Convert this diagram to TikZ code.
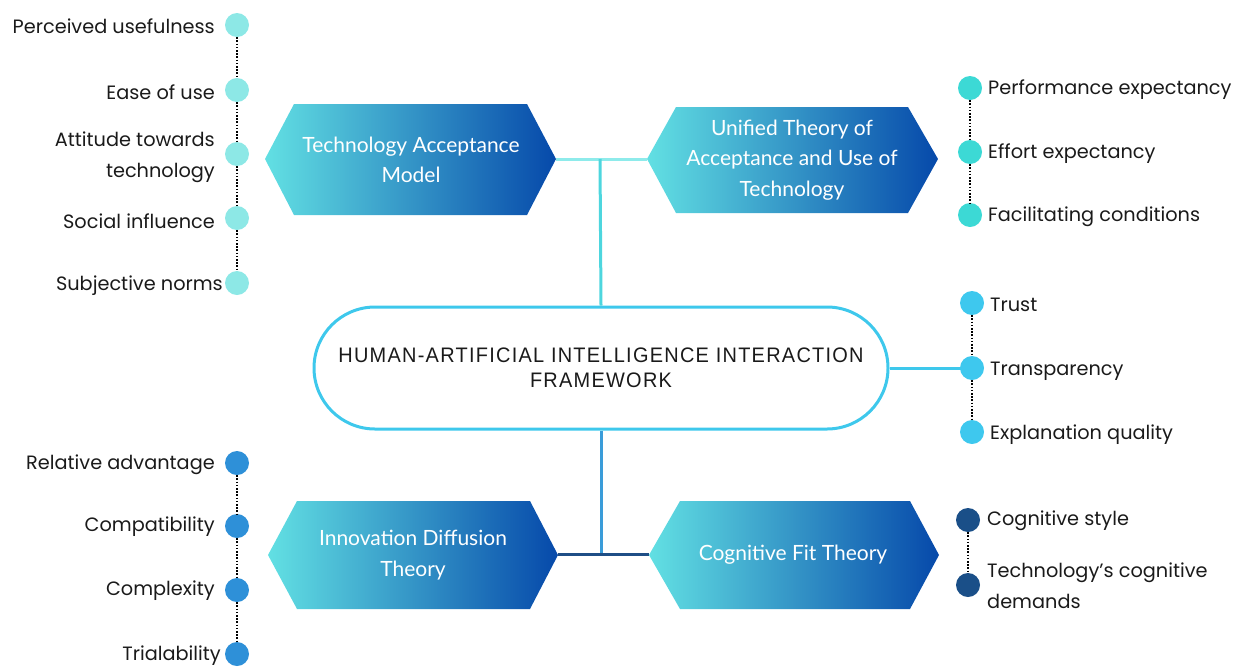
\documentclass[tikz,border=0pt]{standalone}
\usepackage{fontspec}
\setmainfont{Poppins}
\newfontfamily\hexfont{Lato}
\newfontfamily\hubfont[FakeStretch=0.95,LetterSpace=6]{Liberation Sans}
\definecolor{tamdot}{HTML}{8DE8E6}
\definecolor{utdot}{HTML}{3CD9D5}
\definecolor{trdot}{HTML}{3EC8EE}
\definecolor{iddot}{HTML}{2E90D8}
\definecolor{cfdot}{HTML}{1A4F88}
\definecolor{hexL}{HTML}{62E0E3}
\definecolor{hexR}{HTML}{0649AA}
\definecolor{linkA}{HTML}{8EEBEB}
\definecolor{linkB}{HTML}{4DD6DE}
\definecolor{hubline}{HTML}{3EC8EC}
\definecolor{linkC}{HTML}{3A9CD9}
\definecolor{linkD}{HTML}{1F4E86}
\definecolor{ink}{HTML}{1A1A1A}
\tikzset{
  dot/.style={circle, minimum size=24pt, inner sep=0pt, draw=none},
  dotline/.style={line width=1.6pt, dash pattern=on 1.6pt off 1.6pt, black},
  lbl/.style={inner sep=0pt, text=ink, font=\fontsize{19.3}{31}\selectfont, align=right, yshift=-2pt},
  rlbl/.style={inner sep=0pt, text=ink, font=\fontsize{19.3}{31}\selectfont, align=left, yshift=-2pt},
  hextext/.style={inner sep=0pt, text=white, font=\hexfont\fontsize{21}{30.5}\selectfont, align=center},
  hexshade/.style={left color=hexL, right color=hexR},
}
\begin{document}
\begin{tikzpicture}[x=1pt,y=-1pt]
\useasboundingbox (0,0) rectangle (1239,667);

% theory hexagons
\shade[hexshade] (265,159) -- (294,104) -- (527,104) -- (556,159) -- (527,215) -- (294,215) -- cycle;
\shade[hexshade] (647,159) -- (676,107) -- (908,107) -- (938,159) -- (908,213) -- (676,213) -- cycle;
\shade[hexshade] (268,555) -- (297,501) -- (530,501) -- (558,555) -- (530,609) -- (297,609) -- cycle;
\shade[hexshade] (649,555) -- (680,501) -- (910,501) -- (939,555) -- (910,609) -- (680,609) -- cycle;
\coordinate (tamR) at (556,159);
\coordinate (utL) at (647,159);
\coordinate (idR) at (558,554);
\coordinate (cfL) at (649,554);
\coordinate (topJ) at (600,159);
\coordinate (botJ) at (601,554);

\node[hextext] (tam) at (411,160) {Technology Acceptance\\Model};
\node[hextext] (ut) at (792,160) {Unified Theory of\\Acceptance and Use of\\Technology};
\node[hextext] (idt) at (413,555) {Innovation Diffusion\\Theory};
\node[hextext] (cft) at (793,555) {Cognitive Fit Theory};

% central framework
\node[draw=hubline, line width=3pt, rounded corners=61pt, minimum width=574pt, minimum height=122pt,
      inner sep=0pt, align=center, font=\hubfont\fontsize{21}{25.5}\selectfont, text=ink] (hub) at (601,368)
  {HUMAN-ARTIFICIAL INTELLIGENCE INTERACTION\\FRAMEWORK};

% connectors
\draw[linkA, line width=3pt] (tamR) -- (utL);
\draw[linkB, line width=3pt] (topJ) -- (hub.north);
\draw[linkC, line width=3pt] (hub.south) -- (botJ);
\draw[linkD, line width=3pt] (idR) -- (cfL);

% TAM factors
\node[dot, fill=tamdot] (a1) at (237,25) {};
\node[dot, fill=tamdot] (a2) at (237,90) {};
\node[dot, fill=tamdot] (a3) at (237,154) {};
\node[dot, fill=tamdot] (a4) at (237,218) {};
\node[dot, fill=tamdot] (a5) at (237,283) {};
\draw[dotline] (a1) -- (a2);
\draw[dotline] (a2) -- (a3);
\draw[dotline] (a3) -- (a4);
\draw[dotline] (a4) -- (a5);
\node[lbl, anchor=east] (la1) at (215,24) {Perceived usefulness};
\node[lbl, anchor=east] (la2) at (215,90) {Ease of use};
\node[lbl, anchor=east] (la3) at (215,155) {Attitude towards\\technology};
\node[lbl, anchor=east] (la4) at (215,219) {Social influence};
\node[lbl, anchor=east] (la5) at (223,284) {Subjective norms};

% UTAUT factors
\node[dot, fill=utdot] (b1) at (970,88) {};
\node[dot, fill=utdot] (b2) at (970,152) {};
\node[dot, fill=utdot] (b3) at (970,215) {};
\draw[dotline] (b1) -- (b2);
\draw[dotline] (b2) -- (b3);
\node[rlbl, anchor=west] (lb1) at (988,88) {Performance expectancy};
\node[rlbl, anchor=west] (lb2) at (988,152) {Effort expectancy};
\node[rlbl, anchor=west] (lb3) at (988,215) {Facilitating conditions};

% trust factors
\draw[hubline, line width=3pt] (hub.east) -- (972,368);
\node[dot, fill=trdot] (c1) at (972,303) {};
\node[dot, fill=trdot] (c2) at (972,368) {};
\node[dot, fill=trdot] (c3) at (972,432) {};
\draw[dotline] (c1) -- (c2);
\draw[dotline] (c2) -- (c3);
\node[rlbl, anchor=west] (lc1) at (990,303) {Trust};
\node[rlbl, anchor=west] (lc2) at (990,369) {Transparency};
\node[rlbl, anchor=west] (lc3) at (990,433) {Explanation quality};

% innovation diffusion factors
\node[dot, fill=iddot] (d1) at (237,463) {};
\node[dot, fill=iddot] (d2) at (237,526) {};
\node[dot, fill=iddot] (d3) at (237,590) {};
\node[dot, fill=iddot] (d4) at (237,654) {};
\draw[dotline] (d1) -- (d2);
\draw[dotline] (d2) -- (d3);
\draw[dotline] (d3) -- (d4);
\node[lbl, anchor=east] (ld1) at (215,463) {Relative advantage};
\node[lbl, anchor=east] (ld2) at (215,525) {Compatibility};
\node[lbl, anchor=east] (ld3) at (215,589) {Complexity};
\node[lbl, anchor=east] (ld4) at (221,654) {Trialability};

% cognitive fit factors
\node[dot, fill=cfdot] (e1) at (968,520) {};
\node[dot, fill=cfdot] (e2) at (968,585) {};
\draw[dotline] (e1) -- (e2);
\node[rlbl, anchor=west] (le1) at (987,519) {Cognitive style};
\node[rlbl, anchor=west] (le2) at (987,584) {Technology’s cognitive\\demands};
\end{tikzpicture}
\end{document}
